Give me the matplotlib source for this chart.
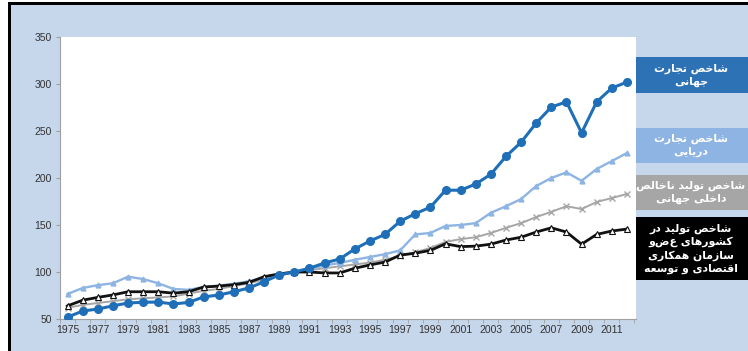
import numpy as np
import matplotlib
matplotlib.use("Agg")
import matplotlib.pyplot as plt
from matplotlib.patches import Rectangle

years = list(range(1975, 2013))

world_trade = [52, 58.5, 60.6, 64, 67, 67.8, 68, 66, 67.6, 73.5, 75.5, 79, 83, 89.6, 97,
               100, 104, 109.6, 113.8, 124.5, 133, 140, 154, 162, 169, 187, 187, 193.6,
               204, 223, 238, 258.5, 275.5, 281, 248, 281, 295.7, 302]
maritime_trade = [76.6, 83, 86, 88, 95, 92.5, 88, 82, 81, 84, 85.5, 87.5, 90, 94, 97.5,
                  100, 103, 107, 109.6, 113, 116, 119, 123, 140, 141.5, 149, 150, 152,
                  163, 170, 177.6, 191.5, 200, 206, 197, 209.6, 218, 226.6]
world_gdp = [62, 65, 67, 69, 71, 72, 73, 74, 77, 80, 82, 85, 88, 92, 96,
             100, 102, 104, 106, 108, 110, 113, 117, 121, 125.5, 132, 135, 137,
             141.5, 147, 152, 158.5, 164, 170, 167, 174.5, 178.7, 183]
oecd_production = [64, 70, 73, 75.6, 79, 79, 79, 77.5, 79, 84, 85, 86.5, 89, 95, 98,
                   100, 100, 99, 99, 104, 107.5, 110.6, 118, 120, 123, 130, 127, 127.5,
                   129.6, 134, 137, 142.5, 147, 142.5, 129.6, 140, 143.6, 145.7]

legend_labels = [
    "شاخص تجارت\nجهانی",
    "شاخص تجارت\nدریایی",
    "شاخص تولید ناخالص\nداخلی جهانی",
    "شاخص تولید در\nکشورهای عضو\nسازمان همکاری\nاقتصادی و توسعه",
]

# Arabic-script shaping (matplotlib has no text shaping): isolated, final, initial, medial
FORMS = {
    "ا": ("\uFE8D", "\uFE8E"), "د": ("\uFEA9", "\uFEAA"), "ر": ("\uFEAD", "\uFEAE"),
    "ز": ("\uFEAF", "\uFEB0"), "و": ("\uFEED", "\uFEEE"),
    "ب": ("\uFE8F", "\uFE90", "\uFE91", "\uFE92"), "ت": ("\uFE95", "\uFE96", "\uFE97", "\uFE98"),
    "ج": ("\uFE9D", "\uFE9E", "\uFE9F", "\uFEA0"), "خ": ("\uFEA5", "\uFEA6", "\uFEA7", "\uFEA8"),
    "س": ("\uFEB1", "\uFEB2", "\uFEB3", "\uFEB4"), "ش": ("\uFEB5", "\uFEB6", "\uFEB7", "\uFEB8"),
    "ص": ("\uFEB9", "\uFEBA", "\uFEBB", "\uFEBC"), "ع": ("\uFEC9", "\uFECA", "\uFECB", "\uFECC"),
    "ق": ("\uFED5", "\uFED6", "\uFED7", "\uFED8"), "ل": ("\uFEDD", "\uFEDE", "\uFEDF", "\uFEE0"),
    "م": ("\uFEE1", "\uFEE2", "\uFEE3", "\uFEE4"), "ن": ("\uFEE5", "\uFEE6", "\uFEE7", "\uFEE8"),
    "ه": ("\uFEE9", "\uFEEA", "\uFEEB", "\uFEEC"), "ی": ("\uFBFC", "\uFBFD", "\uFBFE", "\uFBFF"),
    "ک": ("\uFB8E", "\uFB8F", "\uFB90", "\uFB91"),
}


def shape(line):
    out = []
    for i, ch in enumerate(line):
        if ch not in FORMS:
            out.append(ch)
            continue
        prev = line[i - 1] if i > 0 else ""
        nxt = line[i + 1] if i + 1 < len(line) else ""
        jp = prev in FORMS and len(FORMS[prev]) == 4
        jn = nxt in FORMS and len(FORMS[ch]) == 4
        f = FORMS[ch]
        if jp and jn:
            out.append(f[3])
        elif jp:
            out.append(f[1])
        elif jn:
            out.append(f[2])
        else:
            out.append(f[0])
    return "".join(reversed(out))


def shape_text(text):
    return "\n".join(shape(l) for l in text.split("\n"))


bg = "#c6d6eb"
fig = plt.figure(figsize=(7.48, 3.51), dpi=100, facecolor="white")
W, H = 748.0, 351.0

# background panel and black frame
fig.patches.append(Rectangle((8 / W, 0), 1, 1 - 3 / H, transform=fig.transFigure,
                             facecolor=bg, edgecolor="none", zorder=-2))
fig.patches.append(Rectangle((8 / W, 0), 3 / W, 1 - 3 / H, transform=fig.transFigure,
                             facecolor="black", edgecolor="none", zorder=-1))
fig.patches.append(Rectangle((8 / W, 1 - 5 / H), 1, 2.5 / H, transform=fig.transFigure,
                             facecolor="black", edgecolor="none", zorder=-1))

ax = fig.add_axes([60 / W, 32 / H, 576 / W, 282 / H])
ax.set_zorder(3)
ax.set_facecolor("white")

ax.plot(years, world_gdp, color="#a6a6a6", lw=1.4, marker="x", ms=4, mew=1, zorder=2)
ax.plot(years, maritime_trade, color="#8db4e2", lw=1.7, marker="^", ms=3.5,
        mec="#8db4e2", zorder=3)
ax.plot(years, oecd_production, color="#111111", lw=2.0, marker="^", ms=4.8,
        mfc="white", mec="#111111", mew=0.8, zorder=4)
ax.plot(years, world_trade, color="#1f6fb8", lw=2.2, marker="o", ms=5.5, zorder=5)

ax.set_xlim(1974.5, 2012.6)
ax.set_ylim(50, 350)
ax.set_yticks(range(50, 351, 50))
ax.set_xticks(range(1975, 2012, 2))
ax.set_xticks(np.arange(1974.5, 2013, 1), minor=True)
ax.tick_params(axis="x", which="major", length=0, pad=4, labelsize=7.5, colors="#333333")
ax.tick_params(axis="x", which="minor", length=3, color="#a0a0a0")
ax.tick_params(axis="y", length=3, color="#a0a0a0", labelsize=7.5, labelcolor="#333333", pad=3)
for lab in ax.get_xticklabels() + ax.get_yticklabels():
    lab.set_fontfamily("Liberation Sans")
for s in ["top", "right"]:
    ax.spines[s].set_visible(False)
for s in ["left", "bottom"]:
    ax.spines[s].set_color("#a0a0a0")

# legend boxes on the right
box_colors = ["#2e72b6", "#8db4e2", "#a6a6a6", "#000000"]
box_spans = [(57, 93), (128, 163), (175, 210), (217, 280)]
for label, col, (y0, y1) in zip(legend_labels, box_colors, box_spans):
    fig.patches.append(Rectangle((635 / W, 1 - y1 / H), (W - 635) / W, (y1 - y0) / H,
                                 transform=fig.transFigure, facecolor=col,
                                 edgecolor="none", zorder=2))
    fig.text(691 / W, 1 - (y0 + y1) / 2 / H, shape_text(label), ha="center", va="center",
             color="white", fontsize=7.8, fontweight="bold", family="DejaVu Sans",
             linespacing=1.35, zorder=3)

fig.savefig("out.png", dpi=100, facecolor=fig.get_facecolor())
